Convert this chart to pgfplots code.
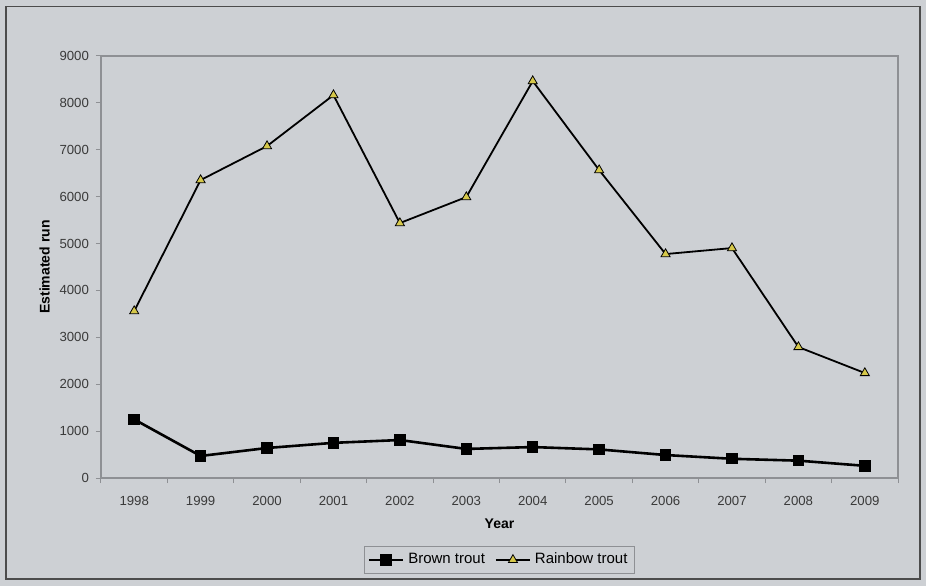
\documentclass[border=0pt]{standalone}
\usepackage{pgfplots}
\pgfplotsset{compat=1.18}
\usepackage{fontspec}
\setmainfont{Liberation Sans}
\definecolor{bg}{HTML}{CDD0D4}
\definecolor{framegray}{HTML}{8E9094}
\definecolor{tri}{HTML}{D6C84A}
\definecolor{ticktext}{HTML}{3A3A3A}
\begin{document}
\begin{tikzpicture}
\begin{axis}[
  set layers,
  scale only axis,
  width=398.5pt, height=211pt,
  xmin=-0.5, xmax=11.5, ymin=0, ymax=9000,
  xtick={0,...,11},
  xticklabels={1998,1999,2000,2001,2002,2003,2004,2005,2006,2007,2008,2009},
  major x tick style={draw=none},
  minor xtick={-0.5,0.5,...,11.5},
  minor tick length=2.5pt,
  ytick={0,1000,...,9000},
  major tick length=2.5pt,
  tick align=outside,
  xtick pos=bottom, ytick pos=left,
  tick style={framegray, line width=0.5pt},
  axis line style={framegray, line width=0.8pt},
  y tick label style={/pgf/number format/.cd, set thousands separator={}, fixed},
  /pgf/number format/assume math mode=true,
  ticklabel style={font=\fontsize{6.6}{8}\selectfont, text=ticktext},
  xticklabel style={yshift=-3pt},
  xlabel={\textbf{Year}},
  ylabel={\textbf{Estimated run}},
  label style={font=\fontsize{7}{8}\selectfont},
  xlabel style={yshift=0pt},
  ylabel style={yshift=-2pt},
  legend columns=2,
  legend style={at={(0.5,-0.194)}, anchor=center, draw=framegray, fill=bg,
    font=\fontsize{7.5}{9}\selectfont, inner sep=1.5pt,
    /tikz/every even column/.append style={column sep=3pt}},
  legend cell align=left,
  clip=false,
]
\pgfonlayer{axis background}
\path[fill=bg, draw=none] (rel axis cs:-0.1267,-0.2559) rectangle (rel axis cs:1.0351,1.1327);
\draw[black!70, line width=0.8pt] (rel axis cs:-0.1195,-0.24) rectangle (rel axis cs:1.0275,1.117);
\endpgfonlayer
\addplot[black, line width=1.3pt, mark=square*, mark size=2.2pt, mark options={solid, fill=black}]
  coordinates {(0,1250) (1,470) (2,640) (3,750) (4,810) (5,620) (6,660) (7,610) (8,490) (9,410) (10,370) (11,260)};
\addlegendentry{Brown trout}
\addplot[black, line width=0.9pt, mark=triangle*, mark size=2.6pt, mark options={solid, fill=tri, draw=black, line width=0.4pt}]
  coordinates {(0,3560) (1,6354) (2,7079) (3,8166) (4,5437) (5,5991) (6,8465) (7,6567) (8,4776) (9,4904) (10,2793) (11,2239)};
\addlegendentry{Rainbow trout}
\end{axis}
\end{tikzpicture}
\end{document}
